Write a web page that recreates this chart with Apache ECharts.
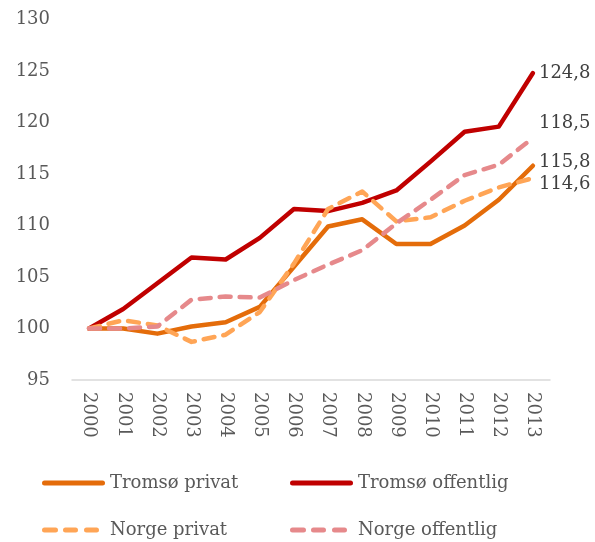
<!DOCTYPE html>
<html>
<head>
<meta charset="utf-8">
<script src="https://cdn.jsdelivr.net/npm/echarts@6/dist/echarts.min.js"></script>
<style>
  html, body { margin: 0; padding: 0; background: #fff; }
  #chart { width: 595px; height: 542px; }
</style>
</head>
<body>
<div id="chart"></div>
<script>
// Index, 2000 = 100
const years = ['2000','2001','2002','2003','2004','2005','2006','2007','2008','2009','2010','2011','2012','2013'];
const tromsoPrivat     = [100, 100.0, 99.5, 100.2, 100.6, 102.1, 106.0, 109.9, 110.6, 108.2, 108.2, 110.0, 112.5, 115.8];
const tromsoOffentlig  = [100, 101.9, 104.4, 106.9, 106.7, 108.8, 111.6, 111.4, 112.2, 113.4, 116.2, 119.1, 119.6, 124.8];
const norgePrivat      = [100, 100.8, 100.3, 98.7, 99.4, 101.6, 106.3, 111.6, 113.3, 110.4, 110.8, 112.4, 113.7, 114.6];
const norgeOffentlig   = [100, 100.0, 100.2, 102.8, 103.1, 103.0, 104.7, 106.2, 107.6, 110.2, 112.5, 114.9, 115.9, 118.5];
const yTicks = { min: 95, max: 130, interval: 5 };

const FONT = 'DejaVu Serif';
const AXIS_TEXT = '#595959';
const DASH = [11, 9];

// legend keys: a rounded bar, or three rounded dashes
const SOLID_ICON = 'path://M2.5,0h58a2.5,2.5 0 0 1 0,5h-58a2.5,2.5 0 0 1 0,-5z';
const DASH_ICON = 'path://M2.5,0h11a2.5,2.5 0 0 1 0,5h-11a2.5,2.5 0 0 1 0,-5z' +
                  'M23.5,0h10a2.5,2.5 0 0 1 0,5h-10a2.5,2.5 0 0 1 0,-5z' +
                  'M44.5,0h10a2.5,2.5 0 0 1 0,5h-10a2.5,2.5 0 0 1 0,-5z';

function endLabel(offsetY) {
  return {
    show: true,
    formatter: p => p.value.toFixed(1).replace('.', ','),
    fontFamily: FONT,
    fontSize: 18,
    color: '#404040',
    distance: 6,
    offset: [0, offsetY]
  };
}

function lineSeries(name, data, color, dashed, labelOffset) {
  return {
    name,
    type: 'line',
    data,
    symbol: 'none',
    smooth: false,
    lineStyle: {
      color,
      width: 4.5,
      type: dashed ? DASH : 'solid',
      cap: 'round',
      join: 'round'
    },
    itemStyle: { color },
    endLabel: endLabel(labelOffset),
    emphasis: { disabled: true }
  };
}

// one legend entry per block, placed in two columns
function legendItem(name, left, top, dashed) {
  return {
    left,
    top,
    padding: 0,
    itemWidth: dashed ? 57 : 63,
    itemHeight: 5,
    itemGap: 0,
    icon: dashed ? DASH_ICON : SOLID_ICON,
    textStyle: {
      fontFamily: FONT, fontSize: 18, color: AXIS_TEXT,
      padding: [0, 0, 0, dashed ? 6 : 0]
    },
    data: [name]
  };
}

const chart = echarts.init(document.getElementById('chart'), null, { renderer: 'canvas' });
chart.setOption({
  animation: false,
  backgroundColor: '#fff',
  grid: { left: 72, right: 45, top: 19.5, bottom: 162, containLabel: false },
  xAxis: {
    type: 'category',
    data: years,
    boundaryGap: true,
    axisLine: { show: true, lineStyle: { color: '#d9d9d9', width: 1.5 } },
    axisTick: { show: false },
    axisLabel: {
      rotate: -90,
      margin: 12,
      fontFamily: FONT,
      fontSize: 18,
      color: AXIS_TEXT
    },
    splitLine: { show: false }
  },
  yAxis: {
    type: 'value',
    min: yTicks.min,
    max: yTicks.max,
    interval: yTicks.interval,
    axisLine: { show: false },
    axisTick: { show: false },
    splitLine: { show: false },
    axisLabel: { margin: 22, fontFamily: FONT, fontSize: 18, color: AXIS_TEXT }
  },
  legend: [
    legendItem('Tromsø privat', 42, 474, false),
    legendItem('Tromsø offentlig', 290, 474, false),
    legendItem('Norge privat', 42, 521, true),
    legendItem('Norge offentlig', 290, 521, true)
  ],
  series: [
    lineSeries('Tromsø privat', tromsoPrivat, '#E46C0A', false, -3),
    lineSeries('Tromsø offentlig', tromsoOffentlig, '#C00000', false, 0),
    lineSeries('Norge privat', norgePrivat, '#FFA556', true, 6),
    lineSeries('Norge offentlig', norgeOffentlig, '#E6898B', true, -15)
  ]
});
</script>
</body>
</html>
